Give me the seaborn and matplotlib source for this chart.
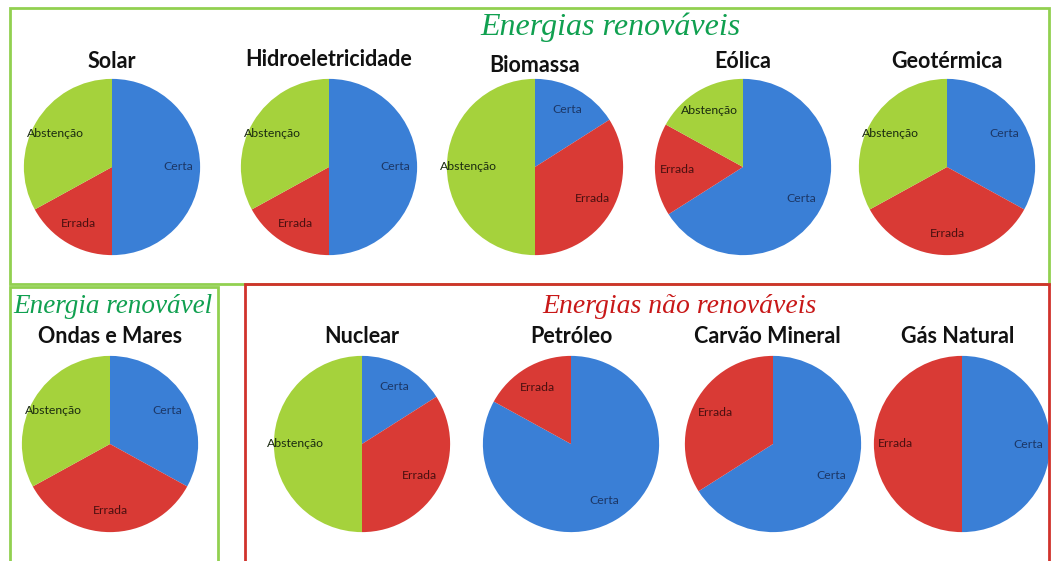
import matplotlib
matplotlib.use("Agg")
import matplotlib.pyplot as plt
from matplotlib.patches import Rectangle
import seaborn as sns

sns.set_theme(style="white")

# ---------------- data ----------------
sources = ["Solar", "Hidroeletricidade", "Biomassa", "Eólica", "Geotérmica",
           "Ondas e Mares", "Nuclear", "Petróleo", "Carvão Mineral", "Gás Natural"]
categories = ["Certa", "Errada", "Abstenção"]
certa = [50, 50, 16, 66, 33, 33, 16, 83, 66, 50]
errada = [17, 17, 34, 17, 34, 34, 34, 17, 34, 50]
abstencao = [33, 33, 50, 17, 33, 33, 50, 0, 0, 0]
section_titles = ["Energias renováveis", "Energia renovável", "Energias não renováveis"]

# ---------------- layout (pixels) ----------------
W, H = 1051, 561
fig = plt.figure(figsize=(W / 100, H / 100), dpi=100)
fig.patch.set_facecolor("white")

pie_colors = sns.color_palette(["#3a7fd6", "#d93a35", "#a5d23c"])
label_colors = ["#1c3766", "#4a1010", "#1a2a10"]

centers = [(112, 167), (329, 167), (535, 167), (743, 167), (947, 167),
           (110, 444), (362, 444), (571, 444), (773, 444), (962, 444)]
radius = 89
title_base = [68, 66, 72, 68, 68, 343, 343, 343, 343, 343]
title_x = [112, 329, 535, 743, 947, 110, 362, 571, 767, 958]


def fx(x):
    return x / W


def fy(y):
    return 1 - y / H


# boxes
green_line = "#92d050"
red_line = "#d0322c"
fig.add_artist(Rectangle((fx(10), fy(284)), fx(1049) - fx(10), fy(8) - fy(284),
                         transform=fig.transFigure, fill=False, ec=green_line, lw=2))
fig.add_artist(Rectangle((fx(10), fy(575)), fx(218) - fx(10), fy(287) - fy(575),
                         transform=fig.transFigure, fill=False, ec=green_line, lw=2,
                         clip_on=False))
fig.add_artist(Rectangle((fx(245), fy(575)), fx(1049) - fx(245), fy(284) - fy(575),
                         transform=fig.transFigure, fill=False, ec=red_line, lw=2,
                         clip_on=False))

# section titles
sec_kw = dict(family="Liberation Serif", style="italic", ha="center", va="baseline")
fig.text(fx(610), fy(35), section_titles[0], color="#10a050", fontsize=23, **sec_kw)
fig.text(fx(113), fy(313), section_titles[1], color="#10a050", fontsize=19.5, **sec_kw)
fig.text(fx(679), fy(313), section_titles[2], color="#c81818", fontsize=20, **sec_kw)

for i, name in enumerate(sources):
    cx, cy = centers[i]
    ax = fig.add_axes([fx(cx - radius), fy(cy + radius), (2 * radius) / W, (2 * radius) / H])
    vals = [certa[i], errada[i], abstencao[i]]
    keep = [j for j, v in enumerate(vals) if v > 0]
    wedges, texts = ax.pie([vals[j] for j in keep],
                           labels=[categories[j] for j in keep],
                           colors=[pie_colors[j] for j in keep],
                           startangle=90, counterclock=False, radius=1,
                           labeldistance=0.75,
                           wedgeprops=dict(linewidth=0),
                           textprops=dict(ha="center", va="center", fontsize=8.8,
                                          family="Lato"))
    for t, j in zip(texts, keep):
        t.set_color(label_colors[j])
    ax.set_xlim(-1.01, 1.01)
    ax.set_ylim(-1.01, 1.01)
    ax.set_aspect("equal")
    ax.axis("off")
    fig.text(fx(title_x[i]), fy(title_base[i]), name, ha="center", va="baseline",
             fontsize=15.5, fontweight="bold", family="Lato", color="#111111")

fig.savefig("out.png", dpi=100, facecolor="white")
